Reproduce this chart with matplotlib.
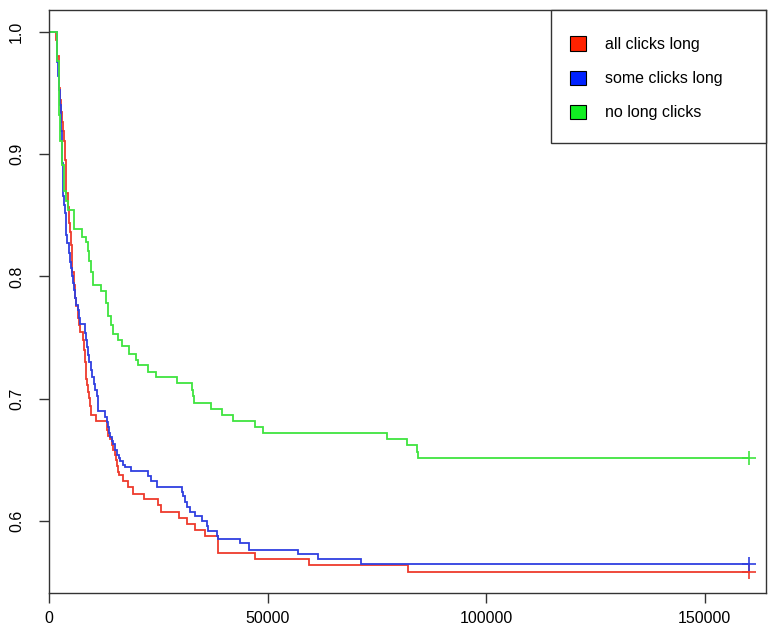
import matplotlib
matplotlib.use("Agg")
import matplotlib.pyplot as plt
from matplotlib.patches import Patch, Rectangle

plt.rcParams['font.family'] = ['Liberation Sans', 'DejaVu Sans']

# ---- data (Kaplan-Meier style step curves) ----
series_names = ["all clicks long", "some clicks long", "no long clicks"]

red_t = [1715, 1944, 2173, 2401, 2630, 2859, 3087, 3270, 3545, 3705, 3819, 4002, 4277,
         4643, 4917, 5077, 5214, 5329, 5832, 6061, 6289, 6564, 6747, 6975, 7204, 7890,
         8073, 8233, 8393, 8576, 8805, 8988, 9262, 9491, 9720, 10749, 13196, 13607,
         14065, 14522, 14751, 15094, 15437, 15666, 15895, 16078, 16855, 18136, 19279,
         21795, 25042, 25614, 29731, 31492, 33504, 35791, 38582, 38719, 47112, 59577,
         82218]
red_s = [0.993, 0.980, 0.968, 0.954, 0.944, 0.934, 0.926, 0.919, 0.911, 0.895, 0.879,
         0.868, 0.857, 0.844, 0.836, 0.826, 0.815, 0.804, 0.793, 0.782, 0.776, 0.771,
         0.766, 0.760, 0.755, 0.748, 0.740, 0.730, 0.722, 0.716, 0.711, 0.706, 0.701,
         0.694, 0.687, 0.682, 0.675, 0.670, 0.667, 0.662, 0.658, 0.654, 0.650, 0.645,
         0.640, 0.638, 0.633, 0.628, 0.622, 0.618, 0.613, 0.608, 0.603, 0.598, 0.593,
         0.588, 0.581, 0.574, 0.569, 0.564, 0.559]

blue_t = [1761, 1944, 2127, 2287, 2516, 2744, 2904, 3042, 3202, 3316, 3499, 3659, 3819,
          4002, 4231, 4574, 4803, 5031, 5329, 5557, 5832, 6061, 6289, 6632, 6975, 7090,
          8233, 8462, 8759, 8988, 9262, 9605, 9948, 10292, 10635, 10909, 11206, 11321,
          12922, 13196, 13493, 13836, 14065, 14408, 14751, 15094, 15552, 16009, 16238,
          16992, 17381, 18685, 22573, 23327, 24631, 30417, 30760, 31103, 31492, 32315,
          33390, 34991, 36066, 36363, 38353, 38650, 43682, 45740, 57015, 61589, 71286]
blue_s = [0.989, 0.975, 0.964, 0.952, 0.940, 0.919, 0.907, 0.893, 0.878, 0.866, 0.858,
          0.852, 0.843, 0.834, 0.827, 0.819, 0.812, 0.807, 0.800, 0.795, 0.789, 0.782,
          0.777, 0.773, 0.766, 0.761, 0.754, 0.748, 0.742, 0.736, 0.730, 0.724, 0.718,
          0.712, 0.707, 0.702, 0.695, 0.690, 0.685, 0.681, 0.677, 0.672, 0.669, 0.666,
          0.663, 0.658, 0.654, 0.652, 0.649, 0.646, 0.644, 0.641, 0.637, 0.633, 0.628,
          0.624, 0.621, 0.616, 0.612, 0.608, 0.604, 0.600, 0.596, 0.592, 0.588, 0.586,
          0.582, 0.577, 0.573, 0.569, 0.565]

green_t = [1830, 1944, 2173, 2401, 2630, 2973, 3430, 3888, 4277, 5786, 7478, 8462, 8988,
           9148, 9605, 10131, 11892, 13036, 13562, 14179, 14705, 15895, 16626, 18365,
           19897, 20286, 22710, 24471, 29342, 32635, 32932, 33161, 37049, 39496, 42149,
           47112, 49010, 77370, 81875, 84093, 84459]
green_s = [0.985, 0.976, 0.952, 0.932, 0.911, 0.891, 0.870, 0.862, 0.854, 0.839, 0.832,
           0.828, 0.821, 0.813, 0.804, 0.793, 0.788, 0.778, 0.768, 0.760, 0.753, 0.748,
           0.743, 0.737, 0.732, 0.728, 0.722, 0.718, 0.713, 0.707, 0.702, 0.697, 0.692,
           0.687, 0.682, 0.677, 0.672, 0.667, 0.662, 0.657, 0.652]

censor_time = 160000

x_ticks = [0, 50000, 100000, 150000]
x_tick_labels = ["0", "50000", "100000", "150000"]
y_ticks = [0.6, 0.7, 0.8, 0.9, 1.0]
y_tick_labels = ["0.6", "0.7", "0.8", "0.9", "1.0"]

line_colors = ["#ee3a2c", "#2f3fe0", "#3fe43f"]
legend_colors = ["#ff2200", "#0022ff", "#11ee22"]

# ---- figure ----
fig = plt.figure(figsize=(7.68, 6.39), dpi=100)
ax = fig.add_axes([49 / 768, 1 - 593 / 639, 717 / 768, 583 / 639])

curves = [(red_t, red_s), (blue_t, blue_s), (green_t, green_s)]
for (tt, ss), col in zip(curves, line_colors):
    xs = [0] + list(tt) + [censor_time]
    ys = [1.0] + list(ss) + [ss[-1]]
    ax.plot(xs, ys, drawstyle='steps-post', color=col, lw=1.3, solid_joinstyle='miter')
    ax.plot([censor_time], [ss[-1]], marker='+', color=col, ms=10, mew=1.2)

ax.set_xlim(0, 164000)
ax.set_ylim(0.5415, 1.0176)
ax.set_xticks(x_ticks)
ax.set_xticklabels(x_tick_labels)
ax.set_yticks(y_ticks)
ax.set_yticklabels(y_tick_labels, rotation=90, va='center')
ax.tick_params(axis='both', length=7, width=1, color='#333333', labelsize=11.5,
               labelcolor='black')
ax.tick_params(axis='x', pad=6)
ax.tick_params(axis='y', pad=11)
for sp in ax.spines.values():
    sp.set_color('#333333')
    sp.set_linewidth(1)

# legend frame drawn separately so its padding can match the reference
ax.add_patch(Rectangle((0.700, 0.772), 0.300, 0.228, transform=ax.transAxes,
                       facecolor='white', edgecolor='#333333', linewidth=1,
                       zorder=4, clip_on=False))
handles = [Patch(facecolor=c, edgecolor='black', linewidth=0.8) for c in legend_colors]
leg = ax.legend(handles, series_names, loc='upper left',
                bbox_to_anchor=(0.7266, 0.955), fontsize=11.5,
                frameon=False, borderpad=0.0, labelspacing=1.17,
                handlelength=1.0, handleheight=1.0, handletextpad=1.2,
                borderaxespad=0.0)
leg.set_zorder(5)

fig.savefig("out.png", dpi=100)
